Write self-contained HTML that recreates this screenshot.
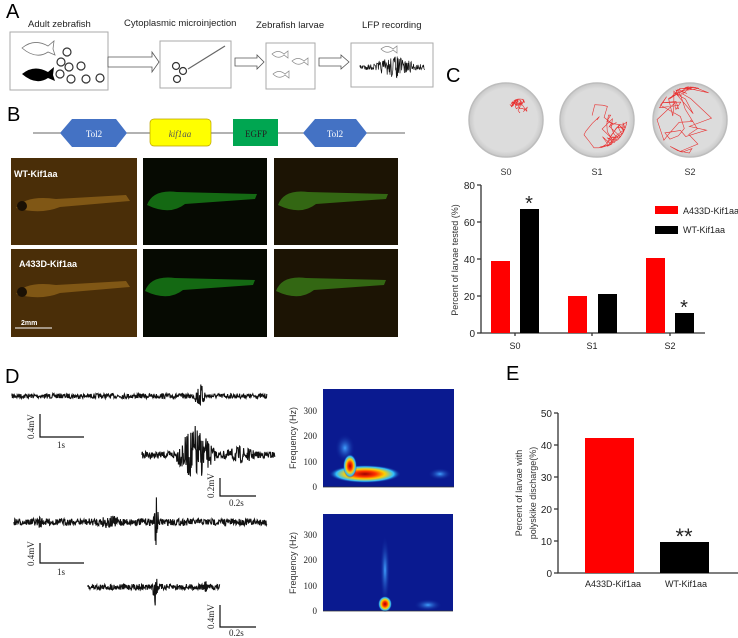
<!DOCTYPE html>
<html><head><meta charset="utf-8"><style>
html,body{margin:0;padding:0;background:#fff;width:738px;height:638px;overflow:hidden}
svg{display:block;font-family:"Liberation Sans",sans-serif}
</style></head><body>
<svg id="s" width="738" height="638" viewBox="0 0 738 638" xmlns="http://www.w3.org/2000/svg">
<defs>
<radialGradient id="hot"><stop offset="0" stop-color="#a00000"/><stop offset="0.3" stop-color="#ff3000"/><stop offset="0.55" stop-color="#ffd000"/><stop offset="0.8" stop-color="#30c0ff"/><stop offset="1" stop-color="#0a1a90" stop-opacity="0"/></radialGradient>
<radialGradient id="cy"><stop offset="0" stop-color="#40a0ff"/><stop offset="1" stop-color="#0a1a90" stop-opacity="0"/></radialGradient>
<radialGradient id="dish"><stop offset="0.85" stop-color="#dcdcdc"/><stop offset="1" stop-color="#c8c8c8"/></radialGradient>
</defs>
<g font-size="20" fill="#000">
<text x="6" y="18">A</text><text x="7" y="121">B</text><text x="446" y="82">C</text><text x="5" y="383">D</text><text x="506" y="380">E</text>
</g>
<g font-size="9.5" fill="#222">
<text x="28" y="27">Adult zebrafish</text>
<text x="124" y="26">Cytoplasmic microinjection</text>
<text x="256" y="28">Zebrafish larvae</text>
<text x="362" y="28">LFP recording</text>
</g>
<g fill="#fff" stroke="#aaa" stroke-width="1">
<rect x="10" y="32" width="98" height="58"/>
<rect x="160" y="41" width="71" height="47"/>
<rect x="266" y="43" width="49" height="46"/>
<rect x="351" y="43" width="82" height="44"/>
</g>
<g fill="#fff" stroke="#555" stroke-width="0.8">
<path d="M108,57 H152 V52 L159,62 L152,72 V67 H108Z"/>
<path d="M235,58 H257 V55 L264,62 L257,69 V66 H235Z"/>
<path d="M319,58 H341 V55 L349,62 L341,69 V66 H319Z"/>
</g>
<g fill="none" stroke="#333" stroke-width="1.2">
<circle cx="67" cy="52" r="4"/><circle cx="61" cy="62" r="4"/><circle cx="69" cy="67" r="4"/><circle cx="81" cy="66" r="4"/><circle cx="60" cy="74" r="4"/><circle cx="71" cy="79" r="4"/><circle cx="86" cy="79" r="4"/><circle cx="100" cy="78" r="4"/>
<circle cx="176" cy="66" r="3.5"/><circle cx="183" cy="71" r="3.5"/><circle cx="177" cy="79" r="3.5"/>
</g>
<path d="M22,48 q12,-10 26,-2 l6,-5 l-1,8 l2,6 l-7,-3 q-12,8 -26,-4z" fill="none" stroke="#777" stroke-width="0.8"/>
<path d="M22,74 q12,-10 26,-2 l6,-5 l-1,8 l2,6 l-7,-3 q-12,8 -26,-4z" fill="#000"/>
<path d="M188,69 L225,46" stroke="#666" stroke-width="1.2"/>
<g fill="none" stroke="#888" stroke-width="0.7">
<path d="M272,54 q6,-5 12,0 l4,-3 v7 l-4,-3 q-6,5 -12,-1z"/>
<path d="M292,61 q6,-5 12,0 l4,-3 v7 l-4,-3 q-6,5 -12,-1z"/>
<path d="M273,74 q6,-5 12,0 l4,-3 v7 l-4,-3 q-6,5 -12,-1z"/>
<path d="M381,49 q6,-5 12,0 l4,-3 v7 l-4,-3 q-6,5 -12,-1z"/>
</g>
<path id="lfp" fill="none" stroke="#111" stroke-width="0.7"/>
<line x1="33" y1="133" x2="405" y2="133" stroke="#333" stroke-width="0.8"/>
<polygon points="60,133 72,119 116,119 127,133 116,147 72,147" fill="#4472c4"/>
<polygon points="303,133 315,119 356,119 367,133 356,147 315,147" fill="#4472c4"/>
<rect x="150" y="119" width="61" height="27" rx="4" fill="#ffff00" stroke="#bba000" stroke-width="0.7"/>
<rect x="233" y="119" width="45" height="27" fill="#00a651"/>
<g font-family="Liberation Serif,serif" font-size="9" text-anchor="middle">
<text x="94" y="137" fill="#fff">Tol2</text><text x="335" y="137" fill="#fff">Tol2</text>
<text x="180" y="137" fill="#555" font-style="italic">kif1aa</text><text x="256" y="137" fill="#222">EGFP</text>
</g>
<g>
<rect x="11" y="158" width="126" height="87" fill="#4a2e08"/>
<rect x="143" y="158" width="124" height="87" fill="#060a02"/>
<rect x="274" y="158" width="124" height="87" fill="#1c1404"/>
<rect x="11" y="249" width="126" height="88" fill="#4a2e08"/>
<rect x="143" y="249" width="124" height="88" fill="#060a02"/>
<rect x="274" y="249" width="124" height="88" fill="#1c1404"/>
<g fill="#8a5e18" opacity="0.85">
<path d="M16,208 q10,-13 40,-9 l70,-4 l4,6 l-70,6 q-20,8 -44,1z"/>
<path d="M16,294 q10,-13 40,-9 l70,-4 l4,6 l-70,6 q-20,8 -44,1z"/>
</g>
<circle cx="22" cy="206" r="5" fill="#1a1004"/><circle cx="22" cy="292" r="5" fill="#1a1004"/>
<g fill="#1a8a1a" opacity="0.75">
<path d="M147,205 q6,-16 30,-13 l80,2 l-2,5 l-70,5 q-15,12 -38,1z"/>
<path d="M145,291 q6,-16 30,-13 l80,2 l-2,5 l-70,5 q-15,12 -38,1z"/>
</g>
<g fill="#3d8a1a" opacity="0.7">
<path d="M278,205 q6,-16 30,-13 l80,2 l-2,5 l-70,5 q-15,12 -38,1z"/>
<path d="M276,291 q6,-16 30,-13 l80,2 l-2,5 l-70,5 q-15,12 -38,1z"/>
</g>
<g font-size="9" font-weight="bold" fill="#fff"><text x="14" y="177">WT-Kif1aa</text><text x="19" y="267">A433D-Kif1aa</text><text x="21" y="325" font-size="7">2mm</text></g>
<line x1="15" y1="328" x2="52" y2="328" stroke="#fff" stroke-width="1"/>
</g>
<g stroke="#bdbdbd" stroke-width="1.5" fill="url(#dish)">
<circle cx="506" cy="120" r="37"/><circle cx="597" cy="120" r="37"/><circle cx="690" cy="120" r="37"/>
</g>
<g id="tracks" fill="none" stroke="#e83030" stroke-width="0.6"></g>
<g font-size="9" fill="#333" text-anchor="middle"><text x="506" y="175">S0</text><text x="597" y="175">S1</text><text x="690" y="175">S2</text></g>
<g stroke="#333" stroke-width="1.3" fill="none">
<path d="M481,185 V333 H705"/>
<path d="M477,185H481M477,222H481M477,259H481M477,296H481M477,333H481M515,333v3M592,333v3M670,333v3"/>
</g>
<g font-size="10" fill="#222" text-anchor="end"><text x="475" y="189">80</text><text x="475" y="226">60</text><text x="475" y="263">40</text><text x="475" y="300">20</text><text x="475" y="337">0</text></g>
<g font-size="9" fill="#222" text-anchor="middle"><text x="515" y="349">S0</text><text x="592" y="349">S1</text><text x="670" y="349">S2</text></g>
<text transform="translate(458,260) rotate(-90)" font-size="9" fill="#333" text-anchor="middle">Percent of larvae tested (%)</text>
<g fill="#ff0000"><rect x="491" y="261" width="19" height="72"/><rect x="568" y="296" width="19" height="37"/><rect x="646" y="258" width="19" height="75"/></g>
<g fill="#000"><rect x="520" y="209" width="19" height="124"/><rect x="598" y="294" width="19" height="39"/><rect x="675" y="313" width="19" height="20"/></g>
<g font-size="20" fill="#222" text-anchor="middle"><text x="529" y="210">*</text><text x="684" y="314">*</text></g>
<rect x="655" y="206" width="23" height="8" fill="#ff0000"/><rect x="655" y="226" width="23" height="8" fill="#000"/>
<g font-size="9" fill="#222"><text x="683" y="214">A433D-Kif1aa</text><text x="683" y="233">WT-Kif1aa</text></g>
<g id="traces" fill="none" stroke="#111" stroke-width="1.1"></g>
<g stroke="#111" stroke-width="1.2" fill="none">
<path d="M40,414V437H84"/><path d="M220,478V496H256"/><path d="M40,543V563H84"/><path d="M220,605V627H256"/>
</g>
<g font-family="Liberation Serif,serif" font-size="9" fill="#222">
<text x="57" y="448">1s</text><text x="229" y="506">0.2s</text><text x="57" y="575">1s</text><text x="229" y="636">0.2s</text>
<text transform="translate(34,439) rotate(-90)">0.4mV</text>
<text transform="translate(214,498) rotate(-90)">0.2mV</text>
<text transform="translate(34,566) rotate(-90)">0.4mV</text>
<text transform="translate(214,629) rotate(-90)">0.4mV</text>
</g>
<rect x="323" y="389" width="131" height="98" fill="#0a1a90"/>
<rect x="323" y="514" width="130" height="97" fill="#0a1a90"/>
<ellipse cx="345" cy="448" rx="10" ry="14" fill="url(#cy)"/>
<ellipse cx="365" cy="474" rx="36" ry="9" fill="url(#hot)"/>
<ellipse cx="350" cy="466" rx="7" ry="12" fill="url(#hot)"/>
<ellipse cx="440" cy="474" rx="12" ry="6" fill="url(#cy)"/>
<ellipse cx="385" cy="570" rx="5" ry="35" fill="url(#cy)"/>
<ellipse cx="385" cy="604" rx="7" ry="8" fill="url(#hot)"/>
<ellipse cx="428" cy="605" rx="14" ry="6" fill="url(#cy)"/>
<g stroke="#333" stroke-width="0.8"><path d="M323,487H454M323,611H453"/></g>
<g font-family="Liberation Serif,serif" font-size="9" fill="#222" text-anchor="end">
<text x="317" y="414">300</text><text x="317" y="439">200</text><text x="317" y="465">100</text><text x="317" y="490">0</text>
<text x="317" y="538">300</text><text x="317" y="563">200</text><text x="317" y="589">100</text><text x="317" y="614">0</text>
</g>
<g font-size="9" fill="#333" text-anchor="middle">
<text transform="translate(296,438) rotate(-90)">Frequency (Hz)</text>
<text transform="translate(296,563) rotate(-90)">Frequency (Hz)</text>
</g>
<g stroke="#333" stroke-width="1.3" fill="none">
<path d="M558,413V573H738"/>
<path d="M554,413H558M554,445H558M554,477H558M554,509H558M554,541H558M554,573H558"/>
</g>
<g font-size="10" fill="#222" text-anchor="end"><text x="552" y="417">50</text><text x="552" y="449">40</text><text x="552" y="481">30</text><text x="552" y="513">20</text><text x="552" y="545">10</text><text x="552" y="577">0</text></g>
<rect x="585" y="438" width="49" height="135" fill="#ff0000"/>
<rect x="660" y="542" width="49" height="31" fill="#000"/>
<text x="684" y="544" font-size="22" fill="#222" text-anchor="middle">**</text>
<g font-size="9" fill="#222" text-anchor="middle"><text x="613" y="587">A433D-Kif1aa</text><text x="686" y="587">WT-Kif1aa</text></g>
<g font-size="9" fill="#333" text-anchor="middle">
<text transform="translate(522,493) rotate(-90)">Percent of larvae with</text>
<text transform="translate(536,493) rotate(-90)">polyskike discharge(%)</text>
</g>
</svg>
<script>
var seed=7;function r(){seed=(seed*16807)%2147483647;return seed/2147483647;}
function trace(x0,x1,y,amp,bursts){var d="M"+x0+","+y;for(var x=x0;x<=x1;x+=0.4){var a=amp;bursts.forEach(function(b){var dd=Math.abs(x-b[0]);if(dd<b[1])a=Math.max(a,b[2]*(1-dd/b[1]));});d+=" L"+x.toFixed(1)+","+(y+(r()-0.5)*2*a).toFixed(1);}return d;}
var g=document.getElementById("traces"),ns="http://www.w3.org/2000/svg";
function add(p,par){var e=document.createElementNS(ns,"path");e.setAttribute("d",p);(par||g).appendChild(e);}
add(trace(12,267,396,2.5,[[200,8,14]]));
add(trace(142,275,455,3.5,[[195,25,30],[240,30,9]]));
add(trace(14,267,522,3.5,[[156,3,30],[110,30,7],[40,4,8]]));
add(trace(88,220,587,3,[[155,3,25],[205,4,8]]));
document.getElementById("lfp").setAttribute("d",trace(360,425,67,3,[[395,30,12]]));
var t=document.getElementById("tracks");
function walk(cx,cy,rad,n,step,sx,sy){var x=sx,y=sy,d="M"+x+","+y;for(var i=0;i<n;i++){x+=(r()-0.5)*step;y+=(r()-0.5)*step;var dx=x-cx,dy=y-cy,q=Math.sqrt(dx*dx+dy*dy);if(q>rad){x=cx+dx/q*rad;y=cy+dy/q*rad;}d+=" L"+x.toFixed(1)+","+(y).toFixed(1);}return d;}
add(walk(520,110,11,100,6,520,112),t);
add(walk(597,118,30,80,22,597,120),t);
add(walk(690,120,33,70,45,690,120),t);
</script>
</body></html>
